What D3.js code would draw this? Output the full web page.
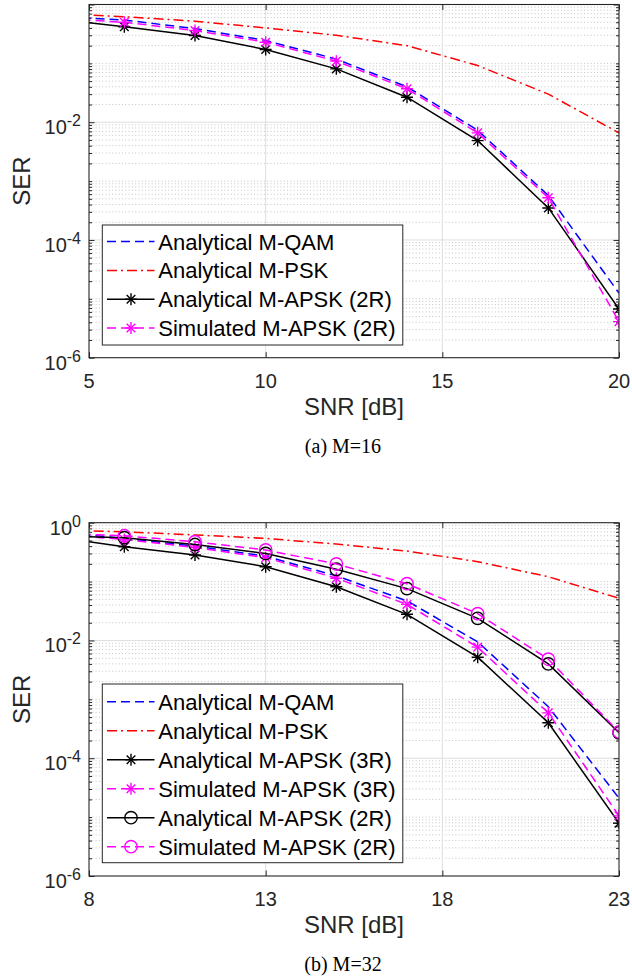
<!DOCTYPE html>
<html>
<head>
<meta charset="utf-8">
<script src="https://cdn.jsdelivr.net/npm/d3@7"></script>
<style>
    body { margin: 0; background: #ffffff; }
    svg { display: block; font-family: "Liberation Sans", Arial, Helvetica, sans-serif; }
</style>
</head>
<body>
<svg id="figure" width="632" height="976"></svg>
<script>
// SER values, x in dB (first point lies left of the x-limit)
var snr16 = [4, 6, 8, 10, 12, 14, 16, 18, 20];
var qam16 = [0.63, 0.545, 0.39, 0.245, 0.118, 0.040, 0.0073, 5.7e-4, 1.25e-5];
var psk16 = [0.70, 0.62, 0.52, 0.40, 0.30, 0.20, 0.092, 0.030, 0.0066];
var apsk16Analytical = [0.571, 0.418, 0.297, 0.172, 0.0807, 0.0266, 0.00488, 3.5e-4, 6.7e-6];
var apsk16Simulated = [0.585, 0.50, 0.361, 0.229, 0.109, 0.037, 0.0066, 5.2e-4, 4.1e-6];

var snr32 = [7, 9, 11, 13, 15, 17, 19, 21, 23];
var qam32 = [0.708, 0.54, 0.40, 0.27, 0.125, 0.047, 0.0095, 7.5e-4, 2.1e-5];
var psk32 = [0.76, 0.70, 0.62, 0.54, 0.435, 0.33, 0.218, 0.121, 0.052];
var apsk32Analytical3R = [0.577, 0.39, 0.283, 0.179, 0.0819, 0.0278, 0.0052, 4.0e-4, 7.9e-6];
var apsk32Simulated3R = [0.64, 0.52, 0.38, 0.255, 0.114, 0.041, 0.0077, 5.9e-4, 1.05e-5];
var apsk32Analytical2R = [0.60, 0.556, 0.426, 0.30, 0.162, 0.076, 0.0238, 0.0040, 2.7e-4];
var apsk32Simulated2R = [0.66, 0.60, 0.475, 0.344, 0.199, 0.092, 0.0285, 0.0048, 2.8e-4];

// Axis ticks
var xTicks16 = [5, 10, 15, 20];
var xTicks32 = [8, 13, 18, 23];
var yTickPowers16 = [-6, -4, -2];
var yTickPowers32 = [-6, -4, -2, 0];

// Legend entries
var legend16 = ["Analytical M-QAM", "Analytical M-PSK", "Analytical M-APSK (2R)", "Simulated M-APSK (2R)"];
var legend32 = ["Analytical M-QAM", "Analytical M-PSK", "Analytical M-APSK (3R)", "Simulated M-APSK (3R)",
                "Analytical M-APSK (2R)", "Simulated M-APSK (2R)"];

// Line styles
var dashed = "9,5";
var dashDot = "10,4,2,4";

var plotLeft = 89;
var plotRight = 619;
var axisColor = "#262626";

var svg = d3.select("#figure");

function drawMarker(sel, marker, color) {
    /*
    Draws a MATLAB-like marker ("*" or "o") centred at 0,0 of the selection
    */
    if (marker === "*") {
        var a = 6, b = 4.3;
        [[-a, 0, a, 0], [0, -a, 0, a], [-b, -b, b, b], [-b, b, b, -b]].forEach(function(s) {
            sel.append("line")
                .attr("x1", s[0]).attr("y1", s[1])
                .attr("x2", s[2]).attr("y2", s[3])
                .attr("stroke", color)
                .attr("stroke-width", 1.4);
        });
    } else if (marker === "o") {
        sel.append("circle")
            .attr("r", 6.2)
            .attr("fill", "none")
            .attr("stroke", color)
            .attr("stroke-width", 1.4);
    }
}

function drawPanel(panel) {
    /*
    Draws one SER vs SNR panel with grid, series, legend and labels
    */
    var xScale = d3.scaleLinear()
        .domain(panel.xDomain)
        .range([plotLeft, plotRight]);

    var yScale = d3.scaleLog()
        .domain([1e-6, 1])
        .range([panel.bottom, panel.top]);

    var g = svg.append("g").attr("class", "panel");

    // Clip area for the curves
    svg.append("defs").append("clipPath")
        .attr("id", "clip-" + panel.id)
        .append("rect")
        .attr("x", plotLeft)
        .attr("y", panel.top)
        .attr("width", plotRight - plotLeft)
        .attr("height", panel.bottom - panel.top);

    // Minor and major y values
    var minorValues = [];
    var majorValues = [];
    for (var p = -6; p <= 0; p++) {
        for (var m = 1; m <= 9; m++) {
            var v = m * Math.pow(10, p);
            if (v > 1) continue;
            if (m === 1 && p % 2 === 0) majorValues.push(v);
            else minorValues.push(v);
        }
    }

    // Minor horizontal grid (dotted)
    g.append("g").selectAll("line")
        .data(minorValues)
        .enter()
        .append("line")
        .attr("x1", plotLeft)
        .attr("x2", plotRight)
        .attr("y1", d => yScale(d))
        .attr("y2", d => yScale(d))
        .attr("stroke", "#c4c4c4")
        .attr("stroke-width", 1)
        .attr("stroke-dasharray", "1,2.3");

    // Major grid lines
    g.append("g").selectAll("line")
        .data(majorValues.slice(1, -1))
        .enter()
        .append("line")
        .attr("x1", plotLeft)
        .attr("x2", plotRight)
        .attr("y1", d => yScale(d))
        .attr("y2", d => yScale(d))
        .attr("stroke", "#dedede")
        .attr("stroke-width", 1);

    g.append("g").selectAll("line")
        .data(panel.xTicks.slice(1, -1))
        .enter()
        .append("line")
        .attr("x1", d => xScale(d))
        .attr("x2", d => xScale(d))
        .attr("y1", panel.top)
        .attr("y2", panel.bottom)
        .attr("stroke", "#dedede")
        .attr("stroke-width", 1);

    // Tick marks on all four sides (inward)
    var axes = [
        [d3.axisBottom(xScale).tickValues(panel.xTicks), `translate(0, ${panel.bottom})`],
        [d3.axisTop(xScale).tickValues(panel.xTicks), `translate(0, ${panel.top})`],
        [d3.axisLeft(yScale).tickValues(majorValues), `translate(${plotLeft}, 0)`],
        [d3.axisRight(yScale).tickValues(majorValues), `translate(${plotRight}, 0)`]
    ];
    axes.forEach(function(a) {
        g.append("g")
            .attr("transform", a[1])
            .call(a[0].tickSize(-5.5).tickSizeOuter(0).tickFormat(""));
    });
    [[d3.axisLeft(yScale), plotLeft], [d3.axisRight(yScale), plotRight]].forEach(function(a) {
        g.append("g")
            .attr("transform", `translate(${a[1]}, 0)`)
            .call(a[0].tickValues(minorValues).tickSize(-3).tickSizeOuter(0).tickFormat(""));
    });
    g.selectAll(".domain").remove();
    g.selectAll(".tick line")
        .attr("stroke", axisColor)
        .attr("stroke-width", 1);

    // Curves
    var line = d3.line()
        .x((d, i) => xScale(panel.snr[i]))
        .y(d => yScale(d));

    var curves = g.append("g").attr("clip-path", `url(#clip-${panel.id})`);

    panel.series.forEach(function(s) {
        curves.append("path")
            .datum(s.values)
            .attr("d", line)
            .attr("fill", "none")
            .attr("stroke", s.color)
            .attr("stroke-width", 1.5)
            .attr("stroke-dasharray", s.dash);

        if (s.marker) {
            s.values.forEach(function(v, i) {
                var mk = curves.append("g")
                    .attr("transform", `translate(${xScale(panel.snr[i])}, ${yScale(v)})`);
                drawMarker(mk, s.marker, s.color);
            });
        }
    });

    // Axes box
    g.append("rect")
        .attr("x", plotLeft)
        .attr("y", panel.top)
        .attr("width", plotRight - plotLeft)
        .attr("height", panel.bottom - panel.top)
        .attr("fill", "none")
        .attr("stroke", axisColor)
        .attr("stroke-width", 1.1);

    // X tick labels
    g.append("g").selectAll("text")
        .data(panel.xTicks)
        .enter()
        .append("text")
        .attr("x", d => xScale(d))
        .attr("y", panel.bottom + 30)
        .attr("text-anchor", "middle")
        .attr("font-size", 20)
        .attr("fill", axisColor)
        .text(d => d);

    // Y tick labels 10^p
    var yLabels = g.append("g").selectAll("text")
        .data(panel.yTickPowers)
        .enter()
        .append("text")
        .attr("x", 81)
        .attr("y", d => yScale(Math.pow(10, d)) + 12)
        .attr("text-anchor", "end")
        .attr("font-size", 20)
        .attr("fill", axisColor);
    yLabels.append("tspan").text("10");
    yLabels.append("tspan")
        .attr("dy", -8)
        .attr("font-size", 16)
        .text(d => d);

    // Axis labels
    g.append("text")
        .attr("x", (plotLeft + plotRight) / 2)
        .attr("y", panel.bottom + 57)
        .attr("text-anchor", "middle")
        .attr("font-size", 24)
        .attr("fill", axisColor)
        .text("SNR [dB]");

    g.append("text")
        .attr("transform", `translate(30, ${(panel.top + panel.bottom) / 2}) rotate(-90)`)
        .attr("text-anchor", "middle")
        .attr("font-size", 24)
        .attr("fill", axisColor)
        .text("SER");

    // Caption
    g.append("text")
        .attr("x", 343)
        .attr("y", panel.bottom + 95)
        .attr("text-anchor", "middle")
        .attr("font-family", "'Liberation Serif', 'Times New Roman', serif")
        .attr("font-size", 20)
        .attr("fill", "#000")
        .text(panel.caption);

    // Legend
    var legend = g.append("g").attr("class", "legend");
    legend.append("rect")
        .attr("x", 102.3)
        .attr("y", panel.legendTop)
        .attr("width", 300.5)
        .attr("height", panel.legendBottom - panel.legendTop)
        .attr("fill", "#ffffff")
        .attr("stroke", axisColor)
        .attr("stroke-width", 1);

    panel.series.forEach(function(s, i) {
        var rowY = panel.legendFirstRow + i * panel.legendStep;
        legend.append("line")
            .attr("x1", 107)
            .attr("x2", 154.5)
            .attr("y1", rowY)
            .attr("y2", rowY)
            .attr("stroke", s.color)
            .attr("stroke-width", 1.5)
            .attr("stroke-dasharray", s.dash);
        if (s.marker) {
            var mk = legend.append("g").attr("transform", `translate(131, ${rowY})`);
            drawMarker(mk, s.marker, s.color);
        }
        legend.append("text")
            .attr("x", 158.3)
            .attr("y", rowY + 8)
            .attr("font-size", 22)
            .attr("fill", "#000")
            .text(panel.labels[i]);
    });
}

drawPanel({
    id: "m16",
    top: 4.5,
    bottom: 357.7,
    xDomain: [5, 20],
    xTicks: xTicks16,
    yTickPowers: yTickPowers16,
    snr: snr16,
    series: [
        {values: qam16, color: "#0000ff", dash: dashed, marker: null},
        {values: psk16, color: "#ff0000", dash: dashDot, marker: null},
        {values: apsk16Analytical, color: "#000000", dash: null, marker: "*"},
        {values: apsk16Simulated, color: "#ff00ff", dash: dashed, marker: "*"}
    ],
    labels: legend16,
    legendTop: 225,
    legendBottom: 345,
    legendFirstRow: 241.6,
    legendStep: 28.8,
    caption: "(a) M=16"
});

drawPanel({
    id: "m32",
    top: 522.7,
    bottom: 876,
    xDomain: [8, 23],
    xTicks: xTicks32,
    yTickPowers: yTickPowers32,
    snr: snr32,
    series: [
        {values: qam32, color: "#0000ff", dash: dashed, marker: null},
        {values: psk32, color: "#ff0000", dash: dashDot, marker: null},
        {values: apsk32Analytical3R, color: "#000000", dash: null, marker: "*"},
        {values: apsk32Simulated3R, color: "#ff00ff", dash: dashed, marker: "*"},
        {values: apsk32Analytical2R, color: "#000000", dash: null, marker: "o"},
        {values: apsk32Simulated2R, color: "#ff00ff", dash: dashed, marker: "o"}
    ],
    labels: legend32,
    legendTop: 684,
    legendBottom: 862.7,
    legendFirstRow: 701.7,
    legendStep: 29,
    caption: "(b) M=32"
});
</script>
</body>
</html>
